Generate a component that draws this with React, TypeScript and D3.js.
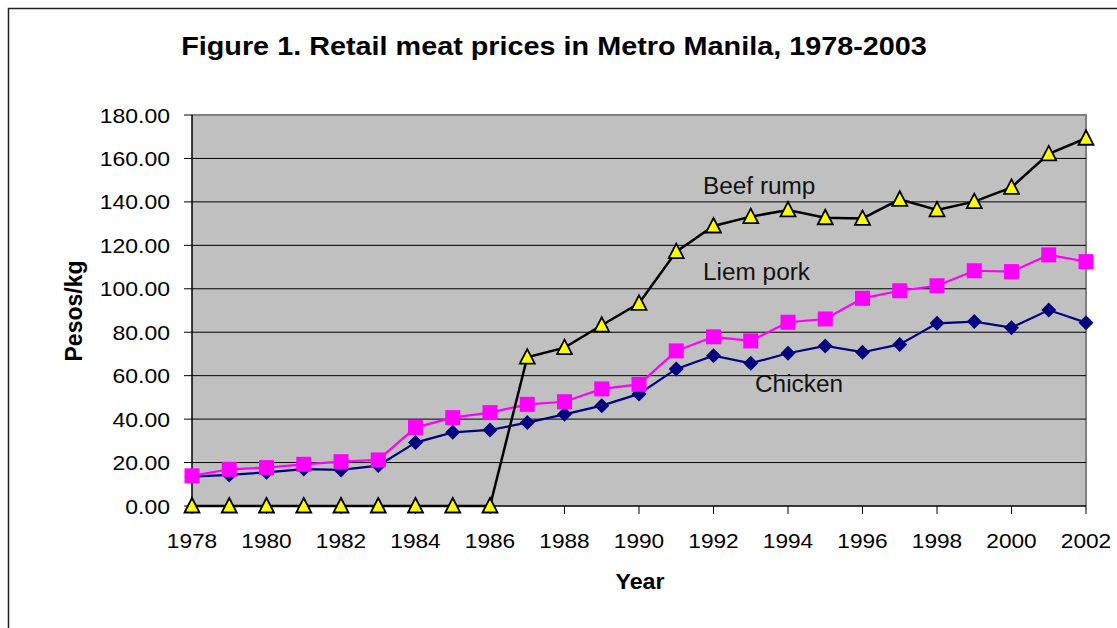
import * as d3 from 'd3';
import React from 'react';

const years = [
  1978, 1979, 1980, 1981, 1982, 1983, 1984, 1985, 1986, 1987, 1988, 1989, 1990,
  1991, 1992, 1993, 1994, 1995, 1996, 1997, 1998, 1999, 2000, 2001, 2002,
];
const tickYears = [1978, 1980, 1982, 1984, 1986, 1988, 1990, 1992, 1994, 1996, 1998, 2000, 2002];
const yTicks = [0, 20, 40, 60, 80, 100, 120, 140, 160, 180];

const chicken = [
  13.5, 14.3, 15.5, 17.0, 16.6, 18.6, 29.2, 33.9, 35.0, 38.4, 42.2, 46.2, 51.6,
  63.1, 69.2, 65.7, 70.3, 73.7, 70.8, 74.4, 84.1, 84.9, 82.1, 90.2, 84.4,
];
const pork = [
  13.9, 16.9, 17.7, 19.2, 20.4, 21.2, 36.1, 40.7, 43.0, 46.8, 48.0, 53.9, 56.0,
  71.4, 77.9, 76.0, 84.6, 86.1, 95.6, 99.1, 101.4, 108.3, 107.9, 115.6, 112.5,
];
const beef = [
  0, 0, 0, 0, 0, 0, 0, 0, 0, 68.5, 72.9, 83.2, 93.3,
  117.1, 128.9, 133.2, 136.3, 132.7, 132.4, 141.2, 136.3, 140.1, 146.7, 162.1, 169.3,
];

const FONT = '"Liberation Sans", Arial, sans-serif';
const SX = 1.12; // the original is a bit stretched sideways

const App = () => {
  const left = 192;
  const right = 1086;
  const top = 115;
  const bottom = 506;

  const x = d3.scaleLinear().domain([1978, 2002]).range([left, right]);
  const y = d3.scaleLinear().domain([0, 180]).range([bottom, top]);

  const line = d3
    .line<number>()
    .x((_, i) => x(years[i]))
    .y(d => y(d));

  const tri = (cx: number, cy: number) =>
    `M${cx},${cy - 8}L${cx + 7.5},${cy + 6.5}L${cx - 7.5},${cy + 6.5}Z`;
  const diamond = (cx: number, cy: number) =>
    `M${cx},${cy - 7.5}L${cx + 7.5},${cy}L${cx},${cy + 7.5}L${cx - 7.5},${cy}Z`;

  const label = (tx: number, ty: number, s = SX) => `translate(${tx},${ty}) scale(${s},1)`;

  return (
    <svg
      width={1117}
      height={628}
      style={{ position: 'absolute', left: 0, top: 0, background: '#fff' }}
      fontFamily={FONT}
    >
      {/* outer frame */}
      <rect x={8.5} y={8.5} width={1200} height={700} fill="none" stroke="#222" strokeWidth={1.5} />

      <text
        transform={label(554, 55, 1.13)}
        textAnchor="middle"
        fontSize={25.5}
        fontWeight="bold"
        fill="#000"
      >
        Figure 1. Retail meat prices in Metro Manila, 1978-2003
      </text>

      {/* plot area */}
      <rect x={left} y={top} width={right - left} height={bottom - top} fill="#C0C0C0" />
      <path d={`M${left},${top}H${right}V${bottom}`} fill="none" stroke="#808080" strokeWidth={2} />

      {yTicks.map(t => (
        <g key={t}>
          {t > 0 && t < 180 && (
            <line x1={left} x2={right} y1={y(t)} y2={y(t)} stroke="#000" strokeWidth={1} />
          )}
          <line x1={left - 8} x2={left} y1={y(t)} y2={y(t)} stroke="#000" strokeWidth={1} />
          <text
            transform={label(170, y(t) + 7.5)}
            textAnchor="end"
            fontSize={20.5}
            fill="#000"
          >
            {t.toFixed(2)}
          </text>
        </g>
      ))}

      <line x1={left} x2={left} y1={top} y2={bottom} stroke="#000" strokeWidth={1.5} />
      <line x1={left} x2={right} y1={bottom} y2={bottom} stroke="#000" strokeWidth={1.5} />

      {tickYears.map(t => (
        <g key={t}>
          <line x1={x(t)} x2={x(t)} y1={bottom} y2={bottom + 8} stroke="#000" strokeWidth={1} />
          <text transform={label(x(t), 548, 1.08)} textAnchor="middle" fontSize={21} fill="#000">
            {t}
          </text>
        </g>
      ))}

      <text transform={label(640, 589, 1.08)} textAnchor="middle" fontSize={21.5} fontWeight="bold">
        Year
      </text>
      <text
        transform={`translate(82,311) rotate(-90)`}
        textAnchor="middle"
        fontSize={23}
        fontWeight="bold"
      >
        Pesos/kg
      </text>

      {/* chicken */}
      <path d={line(chicken) ?? ''} fill="none" stroke="#000080" strokeWidth={2.2} />
      {chicken.map((v, i) => (
        <path key={i} d={diamond(x(years[i]), y(v))} fill="#000080" />
      ))}

      {/* pork */}
      <path d={line(pork) ?? ''} fill="none" stroke="#FF00FF" strokeWidth={2.2} />
      {pork.map((v, i) => (
        <rect key={i} x={x(years[i]) - 7.5} y={y(v) - 7.5} width={15} height={15} fill="#FF00FF" />
      ))}

      {/* beef */}
      <path d={line(beef) ?? ''} fill="none" stroke="#000" strokeWidth={2.5} />
      {beef.map((v, i) => (
        <path
          key={i}
          d={tri(x(years[i]), y(v))}
          fill="#FFFF00"
          stroke="#000"
          strokeWidth={1.8}
          strokeLinejoin="miter"
        />
      ))}

      <text transform={label(703, 194, 1.06)} fontSize={23} fill="#111">
        Beef rump
      </text>
      <text transform={label(703, 280, 1.06)} fontSize={23} fill="#111">
        Liem pork
      </text>
      <text transform={label(755, 392, 1.06)} fontSize={23} fill="#111">
        Chicken
      </text>
    </svg>
  );
};

export default App;
